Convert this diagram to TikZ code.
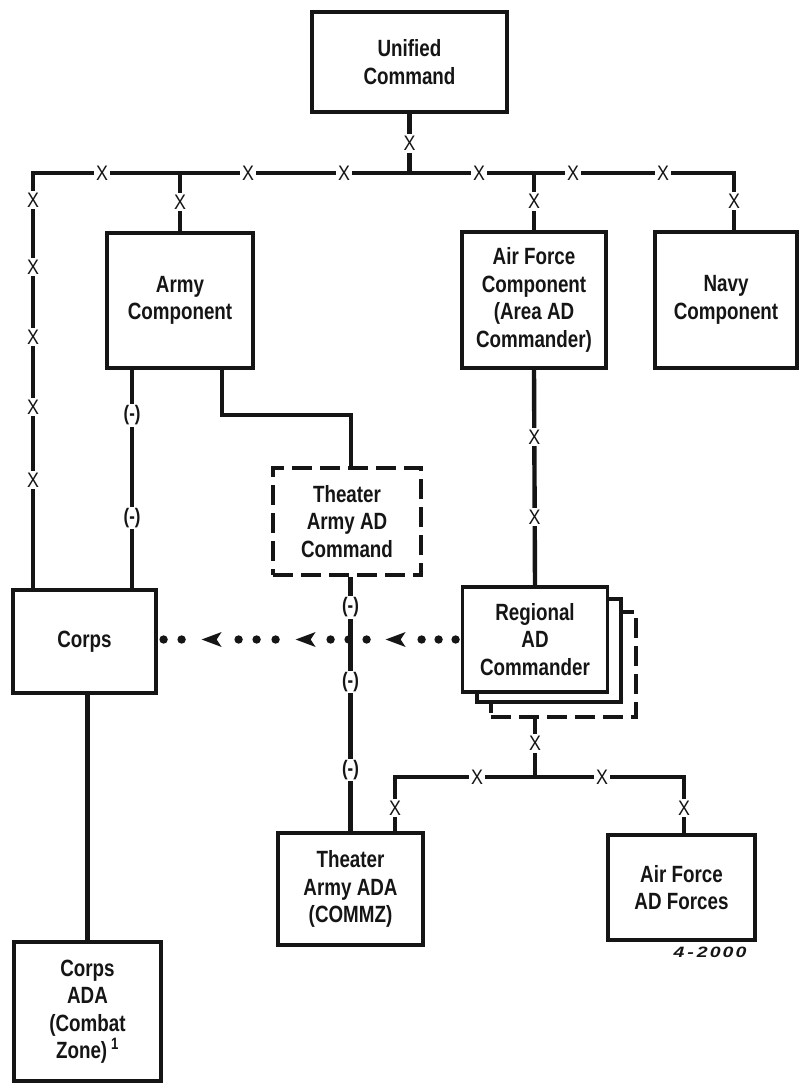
\documentclass[tikz,border=0pt]{standalone}
\usepackage{fontspec}
\newfontfamily\dfont{Liberation Sans}[FakeStretch=0.8]
\newfontfamily\xfont{Liberation Sans}[FakeStretch=0.85]
\newfontfamily\hfont{Liberation Sans}[FakeStretch=1.3]
\usetikzlibrary{calc,decorations.markings}
\definecolor{ink}{HTML}{151515}
\newcommand\mydot{\fill[ink] (0,0) circle (4.2pt);}
\newcommand\myarrow{\fill[ink] (10pt,0) -- (-10pt,7.5pt) -- (-5pt,0) -- (-10pt,-7.5pt) -- cycle;}
\begin{document}
\begin{tikzpicture}[x=1pt,y=-1pt,
  box/.style={draw=ink, line width=3.8pt, fill=white, inner sep=0pt, align=center, text=ink,
    font=\dfont\bfseries\fontsize{23.5}{27.5}\selectfont},
  dbox/.style={box, dash pattern=on 20pt off 8pt},
  conn/.style={draw=ink, line width=4.4pt},
  xm/.style={fill=white, inner sep=2pt, text=ink, font=\xfont\fontsize{21}{21}\selectfont},
  mn/.style={fill=white, inner sep=1.5pt, text=ink, font=\dfont\bfseries\fontsize{21}{21}\selectfont},
]
\useasboundingbox (0,0) rectangle (799,1083);
\fill[white] (0,0) rectangle (799,1083);

% boxes
\node[box, minimum width=195pt, minimum height=100pt] (unified) at (409.5,62) {Unified\\Command};
\node[box, minimum width=146pt, minimum height=135pt] (army) at (180,300.5) {Army\\Component};
\node[box, minimum width=144pt, minimum height=136pt] (af) at (534,300) {Air Force\\Component\\(Area AD\\Commander)};
\node[box, minimum width=142pt, minimum height=136pt] (navy) at (726,300) {Navy\\Component};
\node[dbox, minimum width=148pt, minimum height=107pt] (tac) at (347,521.5) {Theater\\Army AD\\Command};
\node[dbox, minimum width=145pt, minimum height=105pt] (reg3) at (563.5,664.5) {};
\node[box, minimum width=144pt, minimum height=103pt] (reg2) at (549,650.5) {};
\node[box, minimum width=145pt, minimum height=105pt] (regional) at (535,639.5) {Regional\\AD\\Commander};
\node[box, minimum width=143pt, minimum height=103pt] (corps) at (84.5,641.5) {Corps};
\node[box, minimum width=145pt, minimum height=112pt] (taada) at (350.5,889) {Theater\\Army ADA\\(COMMZ)};
\node[box, minimum width=147pt, minimum height=105pt] (afad) at (681.5,887.5) {Air Force\\AD Forces};
\node[box, minimum width=147pt, minimum height=139pt] (cada) at (87.5,1011.5) {Corps\\ADA\\(Combat\\Zone)\,\textsuperscript{1}};
\node[text=ink, inner sep=0pt, font=\hfont\bfseries\itshape\fontsize{15}{15}\selectfont] (code) at (710,952)
  {4\kern3pt-\kern3pt2\kern2pt0\kern2pt0\kern2pt0};

% top bar
\coordinate (cl) at (33,173);
\coordinate (cr) at (734,173);
\draw[conn] (unified.south) -- node[xm]{X} (unified.south |- cl);
\draw[conn] (corps.north -| cl) -- (cl) -- (cr) -- (navy.north -| cr);
\draw[conn] (army.north |- cl) -- node[xm]{X} (army.north);
\draw[conn] (af.north |- cl) -- node[xm]{X} (af.north);
\foreach \y [count=\i] in {200,267,337,407,480} \node[xm] (lx\i) at (33,\y) {X};
\foreach \x [count=\i] in {102,248,344,479,573,663} \node[xm] (tx\i) at (\x,173) {X};
\node[xm] (nx) at (734,201) {X};

% army links
\draw[conn] ($(army.south west)+(27,0)$) coordinate (a1) -- node[mn,pos=0.208]{(-)} node[mn,pos=0.678]{(-)} (a1 |- corps.north);
\draw[conn] ($(army.south west)+(117,0)$) |- ($(tac.north)+(4,-51)$) -- ($(tac.north)+(4,0)$);

% air force to regional
\draw[conn] (af.south) -- node[xm,pos=0.3125]{X} node[xm,pos=0.683]{X} (regional.north);

% theater army AD command to theater army ADA
\draw[conn] (tac.south -| taada.north) -- node[mn,pos=0.12]{(-)} node[mn,pos=0.414]{(-)} node[mn,pos=0.759]{(-)} (taada.north);

% corps to corps ADA
\draw[conn] (cada.north |- corps.south) -- (cada.north);

% dotted line regional -> corps
\path[decorate, decoration={markings,
  mark=at position 5pt with {\mydot},
  mark=at position 22pt with {\mydot},
  mark=at position 39pt with {\mydot},
  mark=at position 65pt with {\myarrow},
  mark=at position 94pt with {\mydot},
  mark=at position 112pt with {\mydot},
  mark=at position 130pt with {\mydot},
  mark=at position 155pt with {\myarrow},
  mark=at position 185pt with {\mydot},
  mark=at position 204pt with {\mydot},
  mark=at position 222pt with {\mydot},
  mark=at position 249pt with {\myarrow},
  mark=at position 279pt with {\mydot},
  mark=at position 297pt with {\mydot}}]
  (regional.west) -- (regional.west -| corps.east);

% regional to bottom bar
\coordinate (bl) at (395,777);
\coordinate (br) at (684,777);
\draw[conn] (regional.south |- reg3.south) -- node[xm,pos=0.42]{X} (regional.south |- bl);
\draw[conn] (taada.north -| bl) -- (bl) -- (br) -- (afad.north -| br);
\foreach \x [count=\i] in {477,602} \node[xm] (bx\i) at (\x,777) {X};
\node[xm] (bxl) at (395,808) {X};
\node[xm] (bxr) at (684,808) {X};
\end{tikzpicture}
\end{document}
